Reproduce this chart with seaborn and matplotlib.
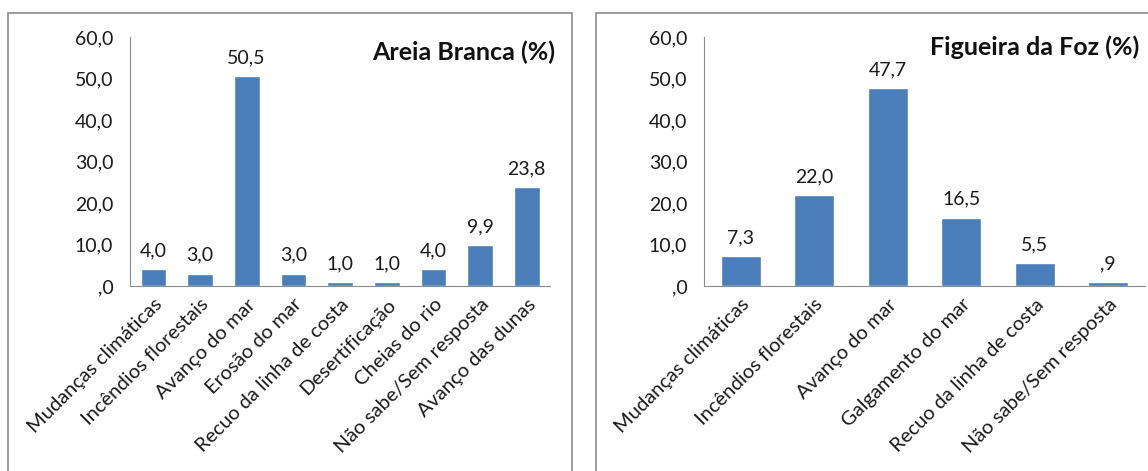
import matplotlib
matplotlib.use("Agg")
import matplotlib.pyplot as plt
import seaborn as sns
from matplotlib.patches import Rectangle

# dados
cats_areia = ["Mudanças climáticas", "Incêndios florestais", "Avanço do mar",
              "Erosão do mar", "Recuo da linha de costa", "Desertificação",
              "Cheias do rio", "Não sabe/Sem resposta", "Avanço das dunas"]
vals_areia = [4.0, 3.0, 50.5, 3.0, 1.0, 1.0, 4.0, 9.9, 23.8]

cats_foz = ["Mudanças climáticas", "Incêndios florestais", "Avanço do mar",
            "Galgamento do mar", "Recuo da linha de costa", "Não sabe/Sem resposta"]
vals_foz = [7.3, 22.0, 47.7, 16.5, 5.5, 0.9]

y_ticks = [0, 10, 20, 30, 40, 50, 60]

BLUE = "#4a7ebb"
FONT = ["Lato", "DejaVu Sans"]


def fmt(v):
    s = f"{v:.1f}".replace(".", ",")
    if s.startswith("0,"):
        s = s[1:]
    return s


def draw(ax, cats, vals, title, tx, ty):
    sns.barplot(x=cats, y=vals, order=cats, color=BLUE, width=0.55,
                saturation=1, ax=ax)
    ax.bar_label(ax.containers[0], labels=[fmt(v) for v in vals],
                 padding=7, fontsize=14, family=FONT, color="#1a1a1a")
    ax.set_ylim(0, 60)
    ax.set_yticks(y_ticks)
    ax.set_yticklabels([fmt(t) for t in y_ticks], fontsize=14, family=FONT)
    ax.set_xticks(range(len(cats)))
    ax.set_xticklabels(cats, rotation=45, ha="right", rotation_mode="anchor",
                       fontsize=14.5, family=FONT)
    ax.tick_params(axis="y", length=0, pad=12, colors="#1a1a1a")
    ax.tick_params(axis="x", length=0, pad=7, colors="#1a1a1a")
    ax.set_xlim(-0.5, len(cats) - 0.5)
    for s in ["top", "right"]:
        ax.spines[s].set_visible(False)
    for s in ["left", "bottom"]:
        ax.spines[s].set_color("#8c8c8c")
    ax.text(tx, ty, title, transform=ax.transAxes, ha="right", va="top",
            fontsize=18, fontweight="bold", family=FONT, color="#111111")


sns.set_style("white")
plt.rcParams["font.family"] = FONT

fig = plt.figure(figsize=(11.48, 4.71), dpi=100)
W, H = 1148, 471

# molduras dos dois painéis
for x0, x1 in [(8, 572), (596, 1150)]:
    fig.patches.append(Rectangle((x0 / W, -0.01), (x1 - x0) / W, 1 - 13 / H + 0.01,
                                 transform=fig.transFigure, fill=False,
                                 edgecolor="#8c8c8c", linewidth=1.2))

ax1 = fig.add_axes([130 / W, 1 - 286 / H, (550 - 130) / W, (286 - 37) / H])
ax2 = fig.add_axes([704 / W, 1 - 286 / H, (1145 - 704) / W, (286 - 37) / H])

draw(ax1, cats_areia, vals_areia, "Areia Branca (%)", 1.012, 0.985)
draw(ax2, cats_foz, vals_foz, "Figueira da Foz (%)", 0.986, 1.005)

fig.savefig("out.png", dpi=100)
